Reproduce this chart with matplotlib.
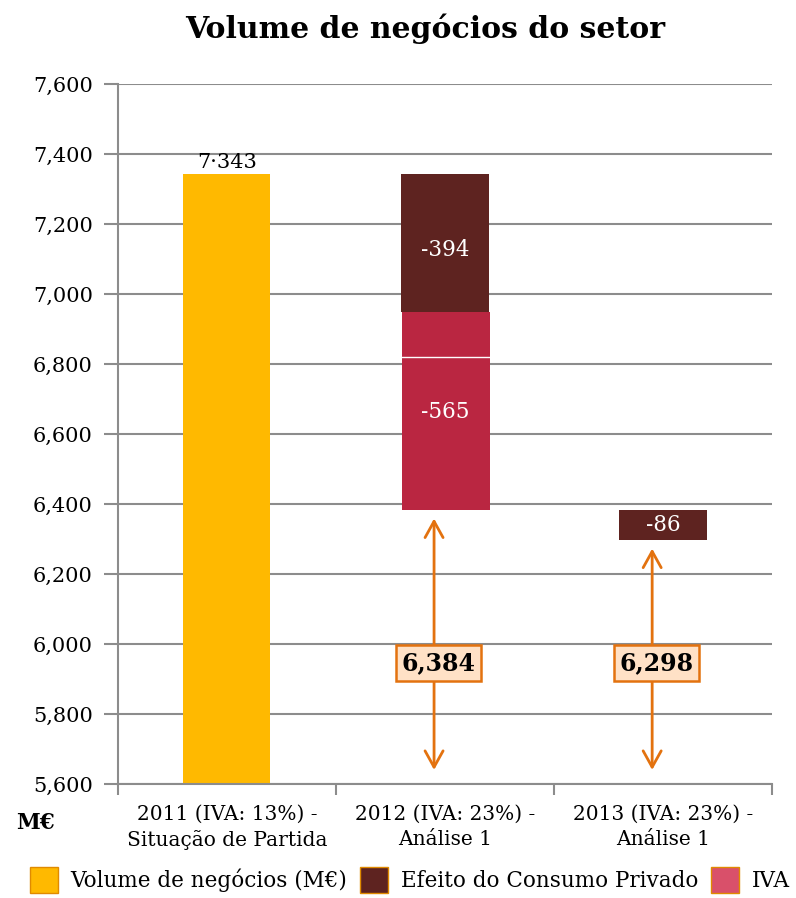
import numpy as np
import matplotlib.pyplot as plt
from matplotlib.patches import Patch

# data
categories = ["2011 (IVA: 13%) -\nSituação de Partida",
              "2012 (IVA: 23%) -\nAnálise 1",
              "2013 (IVA: 23%) -\nAnálise 1"]
volume = [7343, 0, 0]
consumo = [0, -394, -86]
iva_top = [0, -129, 0]      # IVA shown as two pieces (thin white split)
iva_bottom = [0, -436, 0]
totals = [7343, 6384, 6298]

yellow = '#FFB900'
brown = '#5E2320'
crimson = '#BA2641'
iva_legend = '#D9506A'
orange = '#E3720F'
grid_c = '#8C8C8C'

plt.rcParams['font.family'] = ['DejaVu Serif']

fig = plt.figure(figsize=(7.96, 8.98), dpi=100)
ax = fig.add_axes([0.148, 0.127, 0.822, 0.779])

x = np.arange(len(categories))
w = 0.4

# starting volume
ax.bar(x[0], volume[0] - 5600, bottom=5600, width=w, color=yellow)

# waterfall pieces: consumo first from the previous total, then IVA
prev = [None, totals[0], totals[1]]
for i in [1, 2]:
    top = prev[i]
    ax.bar(x[i], consumo[i], bottom=top, width=w, color=brown)
    off = -20 if i == 1 else 0
    ax.text(x[i], top + consumo[i] / 2 + off, str(consumo[i]), ha='center', va='center',
            color='white', fontsize=15.5)
    top = top + consumo[i]
    if iva_top[i] or iva_bottom[i]:
        ax.bar(x[i] + 0.005, iva_top[i], bottom=top, width=w, color=crimson)
        ax.bar(x[i] + 0.005, iva_bottom[i], bottom=top + iva_top[i], width=w,
               color=crimson, linewidth=0)
        ax.plot([x[i] + 0.005 - w / 2, x[i] + 0.005 + w / 2],
                [top + iva_top[i]] * 2, color='white', lw=1)
        ax.text(x[i], top + iva_top[i] + iva_bottom[i] / 2 + 60,
                str(iva_top[i] + iva_bottom[i]), ha='center', va='center',
                color='white', fontsize=15.5)

ax.text(x[0], volume[0] + 8, '7·343', ha='center', va='bottom', fontsize=15)

# double arrows with totals
for i in [1, 2]:
    ax_x = x[i] - 0.05
    ax.annotate('', xy=(ax_x, totals[i] - 25), xytext=(ax_x, 5640),
                arrowprops=dict(arrowstyle='<->,head_length=0.9,head_width=0.5',
                                mutation_scale=13, color=orange, lw=2,
                                shrinkA=0, shrinkB=0))
    ax.text(ax_x + 0.02, 5945, f'{totals[i]:,}', ha='center', va='center',
            fontsize=17, fontweight='bold',
            bbox=dict(boxstyle='square,pad=0.25', fc='#FFE1C6', ec=orange, lw=1.8))

ax.set_ylim(5600, 7600)
ax.set_xlim(-0.5, 2.5)
ax.set_yticks(np.arange(5600, 7601, 200))
ax.set_yticklabels([f'{v:,}' for v in range(5600, 7601, 200)], fontsize=15)
ax.yaxis.grid(True, color=grid_c, lw=1.5)
ax.set_axisbelow(True)
ax.set_xticks([-0.5, 0.5, 1.5, 2.5])
ax.set_xticklabels([])
ax.set_xticks(x, minor=True)
ax.set_xticklabels(categories, minor=True, fontsize=14.5, linespacing=1.4)
ax.tick_params(axis='x', which='minor', length=0, pad=15)
ax.tick_params(axis='x', which='major', length=8, color=grid_c, width=1.5)
ax.tick_params(axis='y', length=10, color=grid_c, width=1.5, pad=8)
for s in ['top', 'right']:
    ax.spines[s].set_visible(False)
for s in ['left', 'bottom']:
    ax.spines[s].set_color(grid_c)
    ax.spines[s].set_linewidth(1.5)

fig.text(0.534, 0.968, 'Volume de negócios do setor', ha='center', va='center',
         fontsize=21.5, fontweight='bold')
fig.text(0.045, 0.083, 'M€', ha='center', va='center', fontsize=15.5, fontweight='bold')

handles = [Patch(fc=yellow, ec='#E08A00', label='Volume de negócios (M€)'),
           Patch(fc=brown, ec='#E08A00', label='Efeito do Consumo Privado'),
           Patch(fc=iva_legend, ec='#E08A00', label='IVA')]
fig.legend(handles=handles, loc='center', bbox_to_anchor=(0.515, 0.02), ncol=3,
           frameon=False, fontsize=15.5, handlelength=1.3, handleheight=1.5,
           handletextpad=0.6, columnspacing=0.6, borderaxespad=0)

fig.savefig('out.png', dpi=100)
